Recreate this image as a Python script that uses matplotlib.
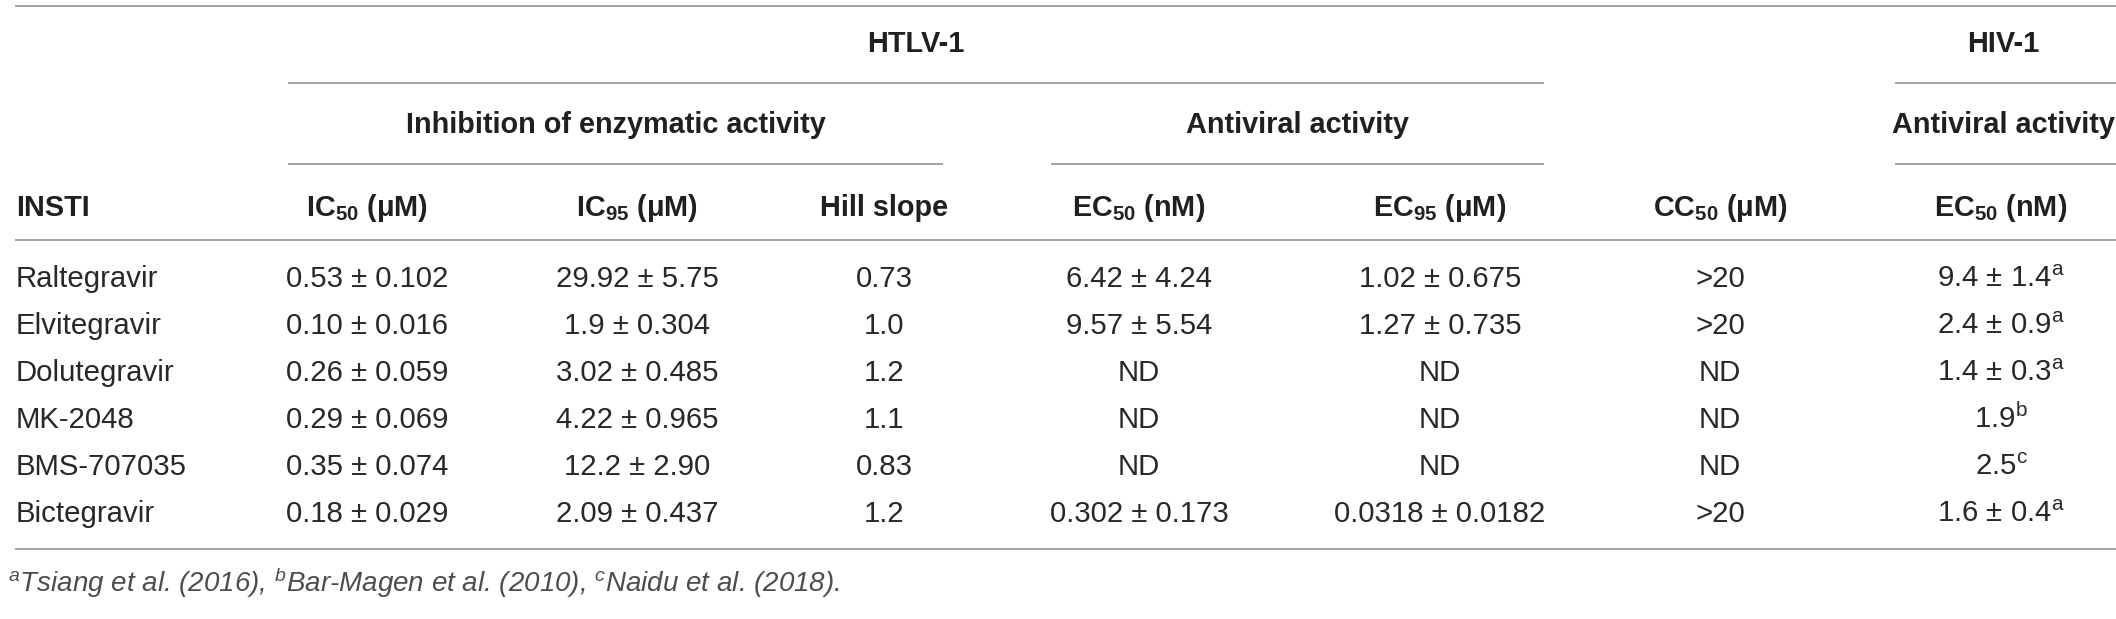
import matplotlib

matplotlib.use("Agg")
import matplotlib.pyplot as plt

plt.rcParams["font.family"] = ["Liberation Sans", "DejaVu Sans"]
plt.rcParams["mathtext.fontset"] = "custom"
plt.rcParams["mathtext.rm"] = "Liberation Sans"
plt.rcParams["mathtext.it"] = "Liberation Sans:italic"
plt.rcParams["mathtext.bf"] = "Liberation Sans:bold"

# ---- table content -------------------------------------------------------
INSTI = ["Raltegravir", "Elvitegravir", "Dolutegravir", "MK-2048",
         "BMS-707035", "Bictegravir"]
IC50 = ["0.53 ± 0.102", "0.10 ± 0.016", "0.26 ± 0.059", "0.29 ± 0.069",
        "0.35 ± 0.074", "0.18 ± 0.029"]
IC95 = ["29.92 ± 5.75", "1.9 ± 0.304", "3.02 ± 0.485", "4.22 ± 0.965",
        "12.2 ± 2.90", "2.09 ± 0.437"]
HILL = ["0.73", "1.0", "1.2", "1.1", "0.83", "1.2"]
EC50 = ["6.42 ± 4.24", "9.57 ± 5.54", "ND", "ND", "ND", "0.302 ± 0.173"]
EC95 = ["1.02 ± 0.675", "1.27 ± 0.735", "ND", "ND", "ND",
        "0.0318 ± 0.0182"]
CC50 = [">20", ">20", "ND", "ND", "ND", ">20"]
HIV_EC50 = ["9.4 ± 1.4", "2.4 ± 0.9", "1.4 ± 0.3", "1.9", "2.5", "1.6 ± 0.4"]
HIV_REF = ["a", "a", "a", "b", "c", "a"]

HEADERS = [
    r"$\mathbf{IC_{50}}$ (μM)",
    r"$\mathbf{IC_{95}}$ (μM)",
    "Hill slope",
    r"$\mathbf{EC_{50}}$ (nM)",
    r"$\mathbf{EC_{95}}$ (μM)",
    r"$\mathbf{CC_{50}}$ (μM)",
    r"$\mathbf{EC_{50}}$ (nM)",
]
FOOTNOTE = (r"$^{a}$Tsiang et al. (2016), $^{b}$Bar-Magen et al. (2010), "
            r"$^{c}$Naidu et al. (2018).")

# ---- layout (pixels) -----------------------------------------------------
W, H = 2116, 619
X_LEFT = 16
X_COL = [367, 637, 884, 1139, 1440, 1720, 2001]
Y_ROWS = [287, 334, 381, 428, 475, 522]
LINE_C = "#a3a3a3"
TEXT_C = "#2a2728"
FS = 21.2

fig = plt.figure(figsize=(W / 100, H / 100), dpi=100)
ax = fig.add_axes([0, 0, 1, 1])
ax.set_xlim(0, W)
ax.set_ylim(H, 0)
ax.axis("off")

# rules
ax.hlines([6, 240, 549], 15, W, color=LINE_C, lw=1.4)
ax.hlines(83, 288, 1544, color=LINE_C, lw=1.4)
ax.hlines(83, 1895, W, color=LINE_C, lw=1.4)
ax.hlines(164, 288, 943, color=LINE_C, lw=1.4)
ax.hlines(164, 1051, 1544, color=LINE_C, lw=1.4)
ax.hlines(164, 1895, W, color=LINE_C, lw=1.4)

bold = dict(fontsize=20.8, fontweight="bold", color="#231f20", va="baseline")
ax.text(916, 52, "HTLV-1", ha="center", **bold)
ax.text(2003, 52, "HIV-1", ha="center", **bold)
ax.text(616, 133, "Inhibition of enzymatic activity", ha="center", **bold)
ax.text(1297, 133, "Antiviral activity", ha="center", **bold)
ax.text(2003, 133, "Antiviral activity", ha="center", **bold)

ax.text(X_LEFT, 216, "INSTI", ha="left", **bold)
for x, h in zip(X_COL, HEADERS):
    ax.text(x, 216, h, ha="center", **bold)

body = dict(fontsize=FS, color=TEXT_C, va="baseline")
columns = [IC50, IC95, HILL, EC50, EC95, CC50]
for i, y in enumerate(Y_ROWS):
    ax.text(X_LEFT, y, INSTI[i], ha="left", **body)
    for x, col in zip(X_COL, columns):
        ax.text(x, y, col[i], ha="center", **body)
    ax.text(X_COL[6], y, HIV_EC50[i] + r"$^{\mathrm{%s}}$" % HIV_REF[i],
            ha="center", **body)

ax.text(8, 592, FOOTNOTE, ha="left", va="baseline", fontsize=20,
        style="italic", color="#4d4d4f")

fig.savefig("out.png", dpi=100)
